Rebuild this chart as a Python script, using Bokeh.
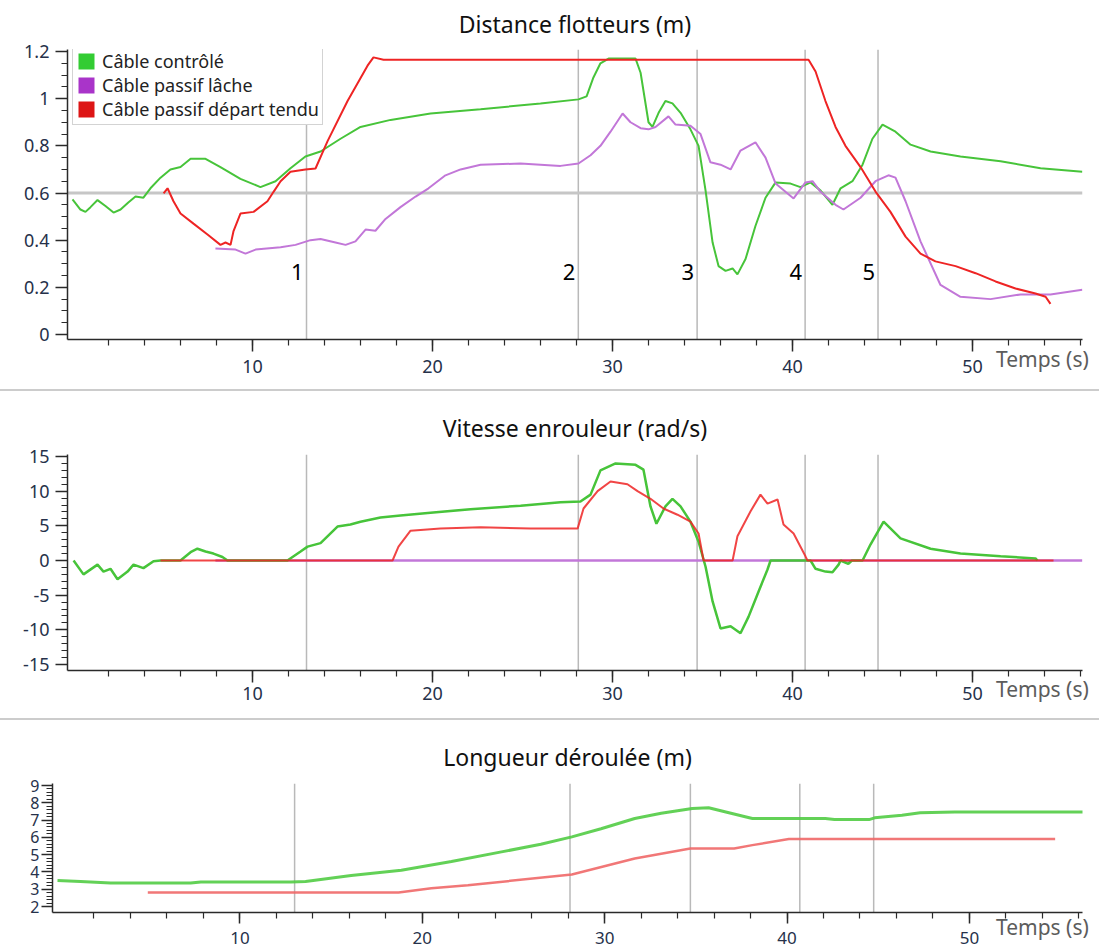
from bokeh.plotting import figure
from bokeh.models import FixedTicker, Span, Label, Legend, LegendItem, Div, Range1d
from bokeh.embed import file_html
from bokeh.resources import INLINE

FONT = "Noto Sans"
NAN = float("nan")

# ---------------- data ----------------
series_names = ["Câble contrôlé", "Câble passif lâche", "Câble passif départ tendu"]
events = [13.0, 28.1, 34.7, 40.7, 44.75]
event_labels = ["1", "2", "3", "4", "5"]
x_ticks = [10, 20, 30, 40, 50]
x_tick_labels = ["10", "20", "30", "40", "50"]

# Panel 1 : Distance flotteurs (m)
d_ctrl_t = [0.0, 0.44, 0.72, 1.0, 1.39, 1.83, 2.28, 2.67, 3.1, 3.5, 3.94, 4.33, 4.89, 5.44, 6.0, 6.56, 7.39,
            8.22, 9.33, 10.44, 11.28, 12.11, 12.94, 13.78, 14.89, 16.0, 17.67, 19.89, 22.67, 26.0, 28.11,
            28.56, 28.94, 29.33, 29.78, 31.28, 31.56, 32.0, 32.22, 32.56, 32.94, 33.33, 33.78, 34.33, 34.78,
            35.17, 35.56, 35.89, 36.28, 36.67, 36.94, 37.39, 37.94, 38.5, 39.06, 39.89, 40.44, 41.0, 41.56,
            42.22, 42.67, 43.33, 43.89, 44.44, 45.0, 45.72, 46.56, 47.67, 49.33, 51.56, 53.78, 56.1]
d_ctrl_v = [0.573, 0.53, 0.52, 0.54, 0.57, 0.545, 0.517, 0.53, 0.56, 0.585, 0.58, 0.62, 0.665, 0.70, 0.71,
            0.745, 0.745, 0.71, 0.66, 0.625, 0.65, 0.705, 0.755, 0.776, 0.83, 0.88, 0.91, 0.937, 0.955, 0.98,
            0.997, 1.01, 1.09, 1.15, 1.17, 1.17, 1.11, 0.90, 0.88, 0.94, 0.99, 0.98, 0.94, 0.87, 0.80,
            0.61, 0.39, 0.29, 0.27, 0.28, 0.255, 0.32, 0.46, 0.58, 0.645, 0.64, 0.625, 0.645, 0.61,
            0.55, 0.62, 0.65, 0.72, 0.83, 0.89, 0.86, 0.805, 0.776, 0.755, 0.735, 0.705, 0.69]

d_lache_t = [7.94, 9.06, 9.61, 10.17, 11.56, 12.39, 13.22, 13.78, 14.61, 15.17, 15.72, 16.28, 16.83, 17.39,
             18.22, 19.06, 19.78, 20.72, 21.56, 22.67, 24.89, 27.11, 28.11, 28.78, 29.33, 29.89, 30.56, 31.0,
             31.56, 32.0, 32.39, 33.11, 33.5, 34.33, 34.89, 35.44, 36.0, 36.56, 37.11, 37.94, 38.5, 39.06,
             39.61, 40.06, 40.72, 41.11, 41.56, 42.39, 42.83, 43.78, 44.61, 45.33, 45.72, 46.28, 47.11,
             48.22, 49.33, 51.0, 52.67, 54.33, 56.1]
d_lache_v = [0.365, 0.36, 0.343, 0.36, 0.37, 0.38, 0.40, 0.405, 0.39, 0.38, 0.395, 0.445, 0.44, 0.49,
             0.54, 0.585, 0.62, 0.675, 0.70, 0.72, 0.725, 0.715, 0.725, 0.76, 0.80, 0.86, 0.937, 0.90,
             0.875, 0.87, 0.88, 0.925, 0.89, 0.885, 0.85, 0.73, 0.72, 0.70, 0.78, 0.815, 0.75, 0.64,
             0.605, 0.577, 0.645, 0.65, 0.605, 0.55, 0.53, 0.58, 0.65, 0.675, 0.665, 0.565, 0.395,
             0.21, 0.16, 0.15, 0.17, 0.17, 0.19]

d_tendu_t = [5.06, 5.28, 5.61, 6.0, 6.72, 7.5, 8.22, 8.5, 8.78, 8.94, 9.33, 10.06, 10.83, 11.17, 11.56,
             12.11, 12.94, 13.5, 14.17, 15.28, 16.39, 16.72, 17.28, 40.89, 41.28, 41.83, 42.39, 42.94,
             43.78, 44.61, 45.44, 46.28, 47.11, 47.94, 49.06, 50.17, 51.28, 52.39, 53.5, 54.06, 54.33]
d_tendu_v = [0.598, 0.62, 0.565, 0.513, 0.47, 0.424, 0.38, 0.39, 0.38, 0.437, 0.513, 0.52, 0.565, 0.605,
             0.65, 0.69, 0.70, 0.704, 0.82, 0.99, 1.14, 1.175, 1.165, 1.165, 1.115, 0.99, 0.88, 0.80,
             0.71, 0.606, 0.52, 0.415, 0.343, 0.31, 0.29, 0.26, 0.225, 0.195, 0.174, 0.16, 0.13]

d_ref_level = 0.6
d_y_ticks = [0, 0.2, 0.4, 0.6, 0.8, 1, 1.2]
d_y_labels = ["0", "0.2", "0.4", "0.6", "0.8", "1", "1.2"]

# Panel 2 : Vitesse enrouleur (rad/s)
v_ctrl_t = [0.06, 0.61, 1.39, 1.72, 2.11, 2.5, 3.06, 3.39, 3.94, 4.5, 4.89, 6.0, 6.56, 6.94, 7.39, 7.83,
            8.33, 8.61, 11.94, 12.67, 13.06, 13.78, 14.72, 15.44, 16.0, 17.11, 18.22, 19.89, 22.11, 24.89,
            27.11, 28.22, 28.78, 29.33, 30.17, 31.28, 31.72, 32.11, 32.44, 32.94, 33.33, 33.78, 34.33,
            34.78, 35.17, 35.56, 36.0, 36.56, 37.11, 37.56, 38.11, 38.61, 38.78, 41.0, 41.28, 41.83,
            42.22, 42.56, 42.67, 43.1, 43.3, 43.89, 44.33, 45.06, 46.0, 47.67, 49.33, 51.56, 53.5, 53.61]
v_ctrl_v = [0.0, -2.0, -0.6, -1.6, -1.2, -2.7, -1.6, -0.6, -1.1, -0.1, 0.0, 0.0, 1.2, 1.7, 1.3, 1.0,
            0.5, 0.0, 0.0, 1.3, 2.0, 2.5, 4.9, 5.2, 5.6, 6.2, 6.5, 6.9, 7.4, 7.9,
            8.4, 8.5, 9.5, 13.0, 14.0, 13.8, 13.1, 7.8, 5.3, 7.8, 8.9, 7.8, 5.6,
            2.7, -0.9, -5.9, -9.8, -9.5, -10.5, -8.1, -4.5, -1.3, 0.0, 0.0, -1.2, -1.6,
            -1.7, -0.6, 0.0, -0.5, 0.0, 0.0, 2.3, 5.6, 3.2, 1.7, 1.0, 0.6, 0.3, 0.0]

v_lache_t = [7.94, 56.1]
v_lache_v = [0.0, 0.0]

v_tendu_t = [4.89, 17.78, 18.11, 18.78, 20.44, 22.67, 25.44, 28.06, 28.39, 29.17, 29.89, 30.83, 31.39,
             32.11, 32.83, 33.61, 34.33, 34.78, 35.06, 36.67, 36.94, 37.67, 38.22, 38.61, 39.17, 39.5,
             40.06, 40.72, 40.83, 54.5]
v_tendu_v = [0.0, 0.0, 2.0, 4.3, 4.6, 4.8, 4.6, 4.6, 7.5, 10.0, 11.4, 11.0, 10.0,
             8.9, 7.5, 6.6, 5.6, 3.9, 0.0, 0.0, 3.5, 7.1, 9.5, 8.2, 8.8, 5.2,
             3.9, 0.6, 0.0, 0.0]

v_y_ticks = [-15, -10, -5, 0, 5, 10, 15]
v_y_labels = ["-15", "-10", "-5", "0", "5", "10", "15"]

# Panel 3 : Longueur déroulée (m)
l_ctrl_t = [0.0, 1.26, 2.91, 7.3, 7.86, 12.8, 13.6, 16.1, 18.85, 21.6, 24.34, 26.5, 28.2, 29.8, 31.65,
            33.1, 34.8, 35.7, 36.7, 38.1, 42.1, 42.6, 44.5, 44.8, 46.3, 47.3, 49.2, 56.3]
l_ctrl_v = [3.5, 3.45, 3.36, 3.36, 3.42, 3.42, 3.45, 3.8, 4.1, 4.6, 5.16, 5.6, 6.03, 6.5, 7.09,
            7.4, 7.67, 7.71, 7.45, 7.09, 7.09, 7.03, 7.03, 7.13, 7.28, 7.42, 7.47, 7.47]

l_tendu_t = [4.95, 18.7, 20.5, 22.5, 28.2, 31.65, 34.7, 37.1, 38.1, 40.1, 54.7]
l_tendu_v = [2.81, 2.81, 3.05, 3.23, 3.85, 4.78, 5.35, 5.35, 5.55, 5.9, 5.9]

l_y_ticks = [2, 3, 4, 5, 6, 7, 8, 9]
l_y_labels = ["2", "3", "4", "5", "6", "7", "8", "9"]

titles = ["Distance flotteurs (m)", "Vitesse enrouleur (rad/s)", "Longueur déroulée (m)"]
x_axis_name = "Temps (s)"

# ---------------- styling ----------------
GREEN = "#47c43a"
PURPLE = "#c277d8"
RED = "#ee2424"
LEG_COLORS = ["#33cc33", "#a934c9", "#dd1515"]
TICK_COLOR = "#26314a"


def make_fig(title, fw, fh, left, top, bottom, xr, yr, yticks, ylabels, yminor, ysize,
             xsize, xtick, xstand, title_standoff):
    p = figure(frame_width=fw, frame_height=fh, min_border_left=left, min_border_right=1099 - left - fw,
               min_border_top=top, min_border_bottom=bottom,
               x_range=Range1d(*xr), y_range=Range1d(*yr),
               output_backend="svg", toolbar_location=None, title=title)
    p.title.text_font = FONT
    p.title.text_font_size = "23px"
    p.title.text_font_style = "normal"
    p.title.align = "center"
    p.title.vertical_align = "top"
    p.title.text_color = "#111111"
    p.title.standoff = title_standoff
    p.outline_line_color = None
    p.background_fill_color = "white"
    p.border_fill_color = "white"
    p.xgrid.visible = False
    p.ygrid.visible = False
    for ax in (p.xaxis[0], p.yaxis[0]):
        ax.axis_line_color = "#2a2a2a"
        ax.axis_line_width = 1.5
        ax.major_tick_line_color = "#2a2a2a"
        ax.minor_tick_line_color = "#2a2a2a"
        ax.major_tick_line_width = 1.5
        ax.minor_tick_line_width = 1.2
        ax.major_tick_in = 0
        ax.minor_tick_in = 0
        ax.major_tick_out = 12
        ax.minor_tick_out = 6
        ax.major_label_text_font = FONT
        ax.major_label_text_color = TICK_COLOR
    xa = p.xaxis[0]
    xa.ticker = FixedTicker(ticks=x_ticks, minor_ticks=list(range(2, 57, 2)))
    xa.major_label_overrides = dict(zip(x_ticks, x_tick_labels))
    xa.major_label_text_font_size = xsize
    xa.major_tick_out = xtick
    xa.major_label_standoff = xstand
    ya = p.yaxis[0]
    ya.ticker = FixedTicker(ticks=yticks, minor_ticks=yminor)
    ya.major_label_overrides = dict(zip(yticks, ylabels))
    ya.major_label_text_font_size = ysize
    ya.major_label_standoff = 6
    return p


def add_events(p):
    for x in events:
        p.add_layout(Span(location=x, dimension="height", line_color="#b9b9b9",
                          line_width=1.5, level="underlay"))


# ---- Panel 1
p1 = make_fig(titles[0], 1015, 290, 67, 48, 50, (-0.278, 56.11), (-0.0212, 1.2085),
              d_y_ticks, d_y_labels, [round(i * 0.05, 2) for i in range(25)], "18px",
              "18px", 12, 8, 15)
add_events(p1)
p1.add_layout(Span(location=d_ref_level, dimension="width", line_color="#c6c6c6",
                   line_width=3, level="underlay"))
p1.line(d_ctrl_t, d_ctrl_v, line_color=GREEN, line_width=2)
p1.line(d_lache_t, d_lache_v, line_color=PURPLE, line_width=2)
p1.line(d_tendu_t, d_tendu_v, line_color=RED, line_width=2)
for x, t in zip(events, event_labels):
    p1.add_layout(Label(x=x, y=0.267, text=t, x_offset=-3, text_align="right", text_baseline="middle",
                        text_font=FONT, text_font_size="22px", text_color="#000000"))

leg_items = []
for name, c in zip(series_names, LEG_COLORS):
    r = p1.quad(left=[NAN], right=[NAN], top=[NAN], bottom=[NAN], fill_color=c, line_color=None)
    leg_items.append(LegendItem(label=name, renderers=[r]))
legend = Legend(items=leg_items, location=(5, 214), margin=0, padding=3, spacing=0,
                glyph_width=20, glyph_height=20, label_standoff=6, label_height=20,
                label_text_font=FONT, label_text_font_size="18px", label_text_color="#222222",
                border_line_color="#a8a8a8", border_line_width=1.2, background_fill_alpha=1.0)
p1.add_layout(legend)

# ---- Panel 2
p2 = make_fig(titles[1], 1015, 216, 67, 63, 48, (-0.278, 56.11), (-15.87, 15.29),
              v_y_ticks, v_y_labels, list(range(-15, 16)), "18px",
              "18px", 12, 4, 17)
add_events(p2)
p2.line(v_lache_t, v_lache_v, line_color=PURPLE, line_width=2.5)
p2.line(v_ctrl_t, v_ctrl_v, line_color=GREEN, line_width=2.5)
p2.line(v_tendu_t, v_tendu_v, line_color=RED, line_width=2, line_alpha=0.85)

# ---- Panel 3
p3 = make_fig(titles[2], 1030, 129, 52, 63, 39, (-0.275, 56.2), (1.653, 9.116),
              l_y_ticks, l_y_labels, [round(2 + i * 0.2, 1) for i in range(36)], "16px",
              "17px", 11, 8, 17)
add_events(p3)
p3.line(l_ctrl_t, l_ctrl_v, line_color="#52cc45", line_width=3, line_alpha=0.9)
p3.line(l_tendu_t, l_tendu_v, line_color="#f06868", line_width=2.5, line_alpha=0.9)
p3.yaxis.major_tick_out = 11
p3.yaxis.minor_tick_out = 6
p3.yaxis.major_label_standoff = 2

sep1 = Div(text="", width=1099, height=2, margin=0, styles={"background-color": "#cccccc"})
sep2 = Div(text="", width=1099, height=2, margin=0, styles={"background-color": "#cccccc"})


# x-axis names, drawn at the right end of each time axis (outside the frames)
def axis_name(top):
    return Div(text=x_axis_name, width=100, height=26, margin=0,
               styles={"position": "absolute", "left": "996px", "top": f"{top}px",
                       "font-family": FONT, "font-size": "21px", "line-height": "26px",
                       "color": "#5c5c5c", "white-space": "nowrap", "z-index": "5"})


names = [axis_name(346), axis_name(676), axis_name(914)]

open("out.html", "w").write(file_html([p1, sep1, p2, sep2, p3] + names, INLINE))
